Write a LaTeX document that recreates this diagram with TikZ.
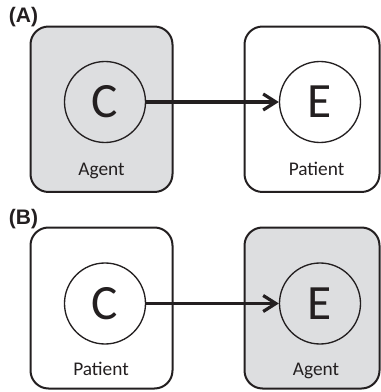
\documentclass[tikz,border=0pt]{standalone}
\usepackage{fontspec}
\setmainfont{Carlito}
\newfontfamily\labfont{Liberation Sans}
\usetikzlibrary{arrows.meta}
\definecolor{boxgray}{RGB}{221,222,224}
\definecolor{ink}{RGB}{35,31,32}
\tikzset{
  roleBox/.style={draw=ink, line width=1.5pt, rounded corners=13.5pt, rectangle, inner sep=0pt},
  grayBox/.style={roleBox, fill=boxgray},
  whiteBox/.style={roleBox, fill=white},
  eventCircle/.style={draw=ink, line width=1pt, circle, minimum size=60.75pt, inner sep=0pt, text=ink, font=\fontsize{37}{40}\selectfont},
  roleLabel/.style={anchor=base, inner sep=0pt, text=ink, font=\fontsize{14.5}{17}\selectfont},
  panelLabel/.style={anchor=base west, inner sep=0pt, text=ink, font=\labfont\bfseries\fontsize{15.75}{18}\selectfont},
  causeArrow/.style={draw=ink, line width=2.6pt, -{Straight Barb[length=9.5pt, width=12pt, line width=2.4pt]}}
}
\begin{document}
\begin{tikzpicture}[x=0.75pt, y=-0.75pt]
\useasboundingbox (0,0) rectangle (381,392);
% Panel A
\node[grayBox, minimum width=106.5pt, minimum height=124.1pt] (a1) at (101.5,109.25) {};
\node[whiteBox, minimum width=101.25pt, minimum height=124.1pt] (a2) at (312,109.25) {};
\node[eventCircle] (aC) at (105,102) {C};
\node[eventCircle] (aE) at (320,102) {E};
\node[roleLabel] (aAg) at (101.5,175) {Agent};
\node[roleLabel] (aPa) at (316.5,175) {Patient};
\draw[causeArrow] (aC.east) -- (aE.west);
\node[panelLabel] (labA) at (8.7,22.5) {(A)};
% Panel B
\node[whiteBox, minimum width=106.5pt, minimum height=120.75pt] (b1) at (101.5,308) {};
\node[grayBox, minimum width=101.25pt, minimum height=120.75pt] (b2) at (312,308) {};
\node[eventCircle] (bC) at (105,303.5) {C};
\node[eventCircle] (bE) at (320,303.5) {E};
\node[roleLabel] (bPa) at (101,375.5) {Patient};
\node[roleLabel] (bAg) at (316,375.5) {Agent};
\draw[causeArrow] (bC.east) -- (bE.west);
\node[panelLabel] (labB) at (8.7,224.6) {(B)};
\end{tikzpicture}
\end{document}
